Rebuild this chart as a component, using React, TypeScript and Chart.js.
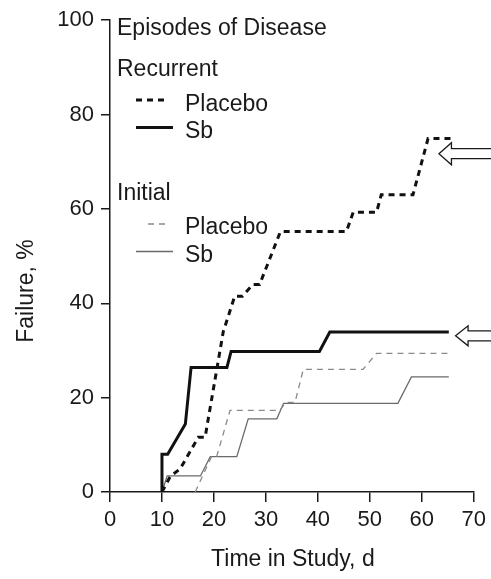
import React, { useEffect, useRef } from "react";
import { Chart, registerables } from "chart.js";

Chart.register(...registerables);

// ---- Data ----
const xTicks = [0, 10, 20, 30, 40, 50, 60, 70];
const yTicks = [0, 20, 40, 60, 80, 100];

const recurrentPlaceboDays = [10, 11.6, 13.5, 17, 18.3, 21.8, 24, 25.5, 27.5, 28.8, 32.8, 45.5, 46.8, 51.3, 52.2, 58.3, 61.2, 65.7];
const recurrentPlaceboPct = [0, 3.3, 4.9, 11.6, 11.6, 34, 41.5, 41.5, 44, 44, 55.2, 55.2, 59.3, 59.3, 63, 63, 74.9, 74.9];

const recurrentSbDays = [10, 10, 11.1, 14.5, 15.6, 22.5, 23.3, 40.3, 42.3, 65.2];
const recurrentSbPct = [0, 8, 8, 14.4, 26.4, 26.4, 29.8, 29.8, 33.9, 33.9];

const initialPlaceboDays = [16.4, 19.5, 20.5, 23.1, 32.7, 33.8, 35.6, 37.2, 48.7, 51.3, 65.2];
const initialPlaceboPct = [0, 7.4, 7.4, 17.3, 17.3, 19, 19, 26, 26, 29.4, 29.4];

const initialSbDays = [10, 11, 17.4, 19.3, 24.4, 26.6, 32.1, 33.4, 55.4, 58, 65.2];
const initialSbPct = [0, 3.4, 3.4, 7.5, 7.5, 15.5, 15.5, 18.8, 18.8, 24.4, 24.4];

// Arrow annotations (tip position in data units)
const arrowDays = [63.3, 66.5];
const arrowPct = [71.7, 33.1];

const xTitle = "Time in Study, d";
const yTitle = "Failure, %";
const legendTitle = "Episodes of Disease";
const groupLabels = ["Recurrent", "Initial"];
const seriesLabels = ["Placebo", "Sb"];

const FONT = '"Liberation Sans", Arial, Helvetica, sans-serif';
const INK = "#1a1a1a";
const THICK = "#111111";
const THIN_SOLID = "#6a6a6a";
const THIN_DASH = "#8a8a8a";

const pts = (xs: number[], ys: number[]) => xs.map((x, i) => ({ x, y: ys[i] }));

const overlayPlugin = {
  id: "overlay",
  afterDraw(chart: any) {
    const ctx = chart.ctx as CanvasRenderingContext2D;
    const xs = chart.scales.x;
    const ys = chart.scales.y;
    ctx.save();
    ctx.fillStyle = INK;
    ctx.textAlign = "left";
    ctx.textBaseline = "alphabetic";
    ctx.font = `23px ${FONT}`;

    // legend block
    ctx.fillText(legendTitle, 117, 35);
    ctx.fillText(groupLabels[0], 117, 76);
    ctx.fillText(seriesLabels[0], 185, 111);
    ctx.fillText(seriesLabels[1], 185, 137.5);
    ctx.fillText(groupLabels[1], 117, 200);
    ctx.fillText(seriesLabels[0], 185, 234);
    ctx.fillText(seriesLabels[1], 185, 261.5);

    const sample = (x1: number, x2: number, y: number, color: string, w: number, dash: number[]) => {
      ctx.beginPath();
      ctx.strokeStyle = color;
      ctx.lineWidth = w;
      ctx.setLineDash(dash);
      ctx.moveTo(x1, y);
      ctx.lineTo(x2, y);
      ctx.stroke();
      ctx.setLineDash([]);
    };
    sample(136, 168, 100, THICK, 3, [6, 5]);
    sample(136, 173, 127.5, THICK, 3, []);
    sample(148, 168, 224, THIN_DASH, 1.3, [6, 5]);
    sample(136, 173, 251.5, THIN_SOLID, 1.3, []);

    // axis titles
    ctx.textAlign = "center";
    ctx.fillText(xTitle, (xs.left + xs.right) / 2 + 1, 566);
    ctx.save();
    ctx.translate(33, 291);
    ctx.rotate(-Math.PI / 2);
    ctx.fillText(yTitle, 0, 0);
    ctx.restore();

    // hollow arrows
    const endX = chart.width + 5;
    arrowDays.forEach((d, i) => {
      const tx = xs.getPixelForValue(d);
      const ty = ys.getPixelForValue(arrowPct[i]);
      const headLen = 12.5;
      const headHalf = i === 0 ? 11 : 10;
      const bodyHalf = 5;
      ctx.beginPath();
      ctx.moveTo(tx, ty);
      ctx.lineTo(tx + headLen, ty - headHalf);
      ctx.lineTo(tx + headLen, ty - bodyHalf);
      ctx.lineTo(endX, ty - bodyHalf);
      ctx.lineTo(endX, ty + bodyHalf);
      ctx.lineTo(tx + headLen, ty + bodyHalf);
      ctx.lineTo(tx + headLen, ty + headHalf);
      ctx.closePath();
      ctx.fillStyle = "#ffffff";
      ctx.fill();
      ctx.strokeStyle = INK;
      ctx.lineWidth = 1.3;
      ctx.stroke();
    });
    ctx.restore();
  },
};

export default function App() {
  const ref = useRef<HTMLCanvasElement | null>(null);

  useEffect(() => {
    if (!ref.current) return;
    const chart = new Chart(ref.current, {
      type: "line",
      data: {
        datasets: [
          {
            label: "Recurrent Placebo",
            data: pts(recurrentPlaceboDays, recurrentPlaceboPct),
            borderColor: THICK,
            borderWidth: 3,
            borderDash: [6, 5],
            pointRadius: 0,
            tension: 0,
            fill: false,
          },
          {
            label: "Recurrent Sb",
            data: pts(recurrentSbDays, recurrentSbPct),
            borderColor: THICK,
            borderWidth: 3,
            pointRadius: 0,
            tension: 0,
            fill: false,
          },
          {
            label: "Initial Placebo",
            data: pts(initialPlaceboDays, initialPlaceboPct),
            borderColor: THIN_DASH,
            borderWidth: 1.3,
            borderDash: [6, 5],
            pointRadius: 0,
            tension: 0,
            fill: false,
          },
          {
            label: "Initial Sb",
            data: pts(initialSbDays, initialSbPct),
            borderColor: THIN_SOLID,
            borderWidth: 1.3,
            pointRadius: 0,
            tension: 0,
            fill: false,
          },
        ],
      },
      options: {
        animation: false,
        responsive: false,
        devicePixelRatio: 1,
        layout: { padding: { top: 18, right: 17, left: 0, bottom: 0 } },
        plugins: {
          legend: { display: false },
          tooltip: { enabled: false },
          title: { display: false },
        },
        scales: {
          x: {
            type: "linear",
            min: xTicks[0],
            max: xTicks[xTicks.length - 1],
            afterBuildTicks: (scale: any) => {
              scale.ticks = xTicks.map((v) => ({ value: v }));
            },
            afterFit: (scale: any) => {
              scale.height = 87;
            },
            ticks: {
              color: INK,
              font: { family: FONT, size: 22 },
              padding: 5,
              maxRotation: 0,
              autoSkip: false,
            },
            grid: {
              drawOnChartArea: false,
              drawTicks: true,
              tickLength: 10,
              color: INK,
              lineWidth: 1.5,
            },
            border: { display: true, color: INK, width: 1.5 },
          },
          y: {
            type: "linear",
            min: yTicks[0],
            max: yTicks[yTicks.length - 1],
            afterBuildTicks: (scale: any) => {
              scale.ticks = yTicks.map((v) => ({ value: v }));
            },
            afterFit: (scale: any) => {
              scale.width = 110;
            },
            ticks: {
              color: INK,
              font: { family: FONT, size: 22 },
              padding: 7,
              autoSkip: false,
            },
            grid: {
              drawOnChartArea: false,
              drawTicks: true,
              tickLength: 9,
              color: INK,
              lineWidth: 1.5,
            },
            border: { display: true, color: INK, width: 1.5 },
          },
        },
      },
      plugins: [overlayPlugin],
    } as any);
    return () => chart.destroy();
  }, []);

  return (
    <div style={{ position: "absolute", left: 0, top: 0, width: 491, height: 579, background: "#fff" }}>
      <canvas ref={ref} width={491} height={579} style={{ width: 491, height: 579, display: "block" }} />
    </div>
  );
}
